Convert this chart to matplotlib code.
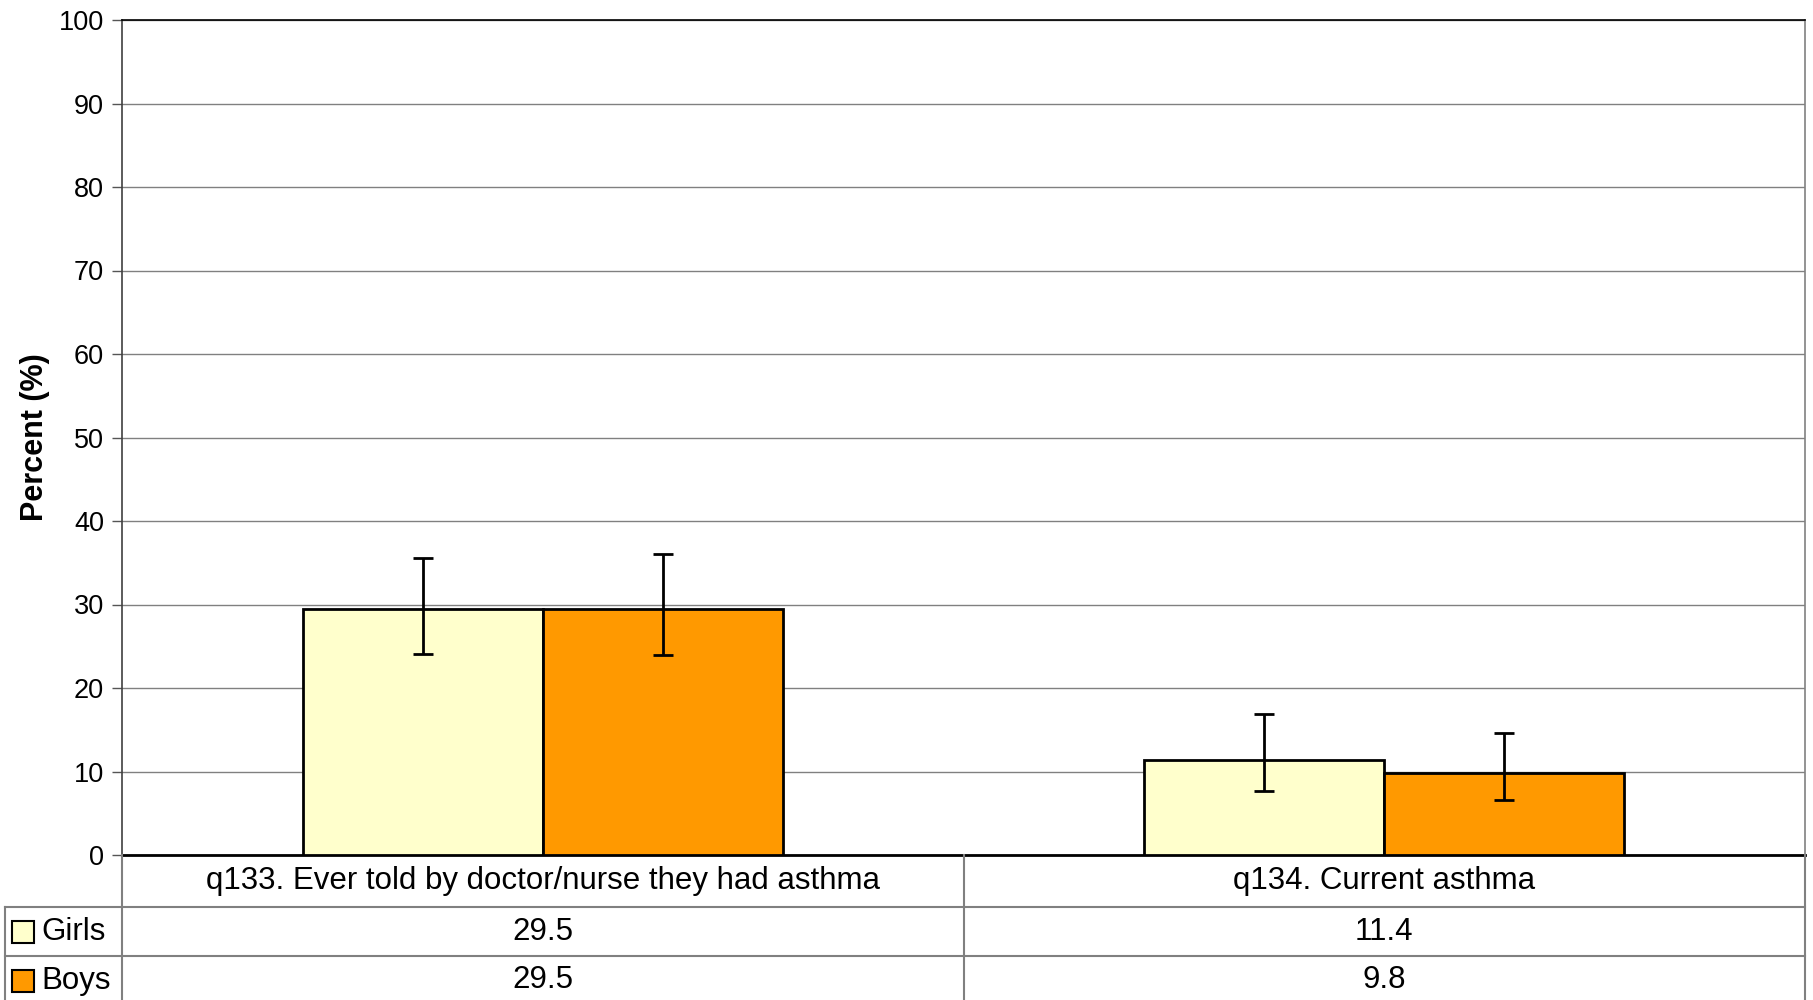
import numpy as np
import matplotlib
matplotlib.use('Agg')
import matplotlib.pyplot as plt
from matplotlib.lines import Line2D
from matplotlib.patches import Rectangle

plt.rcParams['font.family'] = ['Liberation Sans', 'DejaVu Sans']

# dane
categories = ['q133. Ever told by doctor/nurse they had asthma', 'q134. Current asthma']
series = ['Girls', 'Boys']
girls = [29.5, 11.4]
boys = [29.5, 9.8]
girls_lo = [24.1, 7.7]
girls_hi = [35.6, 16.9]
boys_lo = [23.9, 6.6]
boys_hi = [36.0, 14.6]
colors = ['#FFFFCC', '#FF9900']

W, H = 1813, 1000
fig = plt.figure(figsize=(W / 100, H / 100), dpi=100)

# obszar wykresu w pikselach
left, right, top, bottom = 122, 1805, 20, 855
ax = fig.add_axes([left / W, 1 - bottom / H, (right - left) / W, (bottom - top) / H])

x = np.arange(len(categories)) + 0.5
bw = 0.285
vals = [girls, boys]
los = [girls_lo, boys_lo]
his = [girls_hi, boys_hi]
for i in range(len(series)):
    xs = x + (i - 0.5) * bw
    v = np.array(vals[i])
    yerr = [v - np.array(los[i]), np.array(his[i]) - v]
    ax.bar(xs, v, bw, color=colors[i], edgecolor='black', linewidth=2, zorder=3)
    ax.errorbar(xs, v, yerr=yerr, fmt='none', ecolor='black', elinewidth=2,
                capsize=7, capthick=2, zorder=4)

ax.set_xlim(0, len(categories))
ax.set_ylim(0, 100)
ax.set_yticks(np.arange(0, 101, 10))
ax.tick_params(axis='y', labelsize=19.5, length=7, width=1, color='#555555', pad=6)
ax.set_xticks([])
ax.grid(axis='y', color='#808080', linewidth=1, zorder=0)
ax.set_axisbelow(True)
for s in ['top', 'right', 'left']:
    ax.spines[s].set_color('#808080')
    ax.spines[s].set_linewidth(1.2)
ax.spines['left'].set_color('#404040')
ax.spines['top'].set_color('black')
ax.spines['bottom'].set_linewidth(2)
ax.set_ylabel('Percent (%)', fontsize=22, fontweight='bold')
ax.yaxis.set_label_coords((50 - left) / (right - left), 0.5)

# tabela pod wykresem
def fx(px):
    return px / W

def fy(py):
    return 1 - py / H

tcol = '#808080'
row_h = [855, 907, 956, 1005]
col_mid = ax.transData.transform((1, 0))[0]
col_x = [left, col_mid, right]

lines = [
    ((5, 5), (row_h[1], row_h[3])),
    ((5, right), (row_h[1], row_h[1])),
    ((5, right), (row_h[2], row_h[2])),
]
for cx in col_x:
    lines.append(((cx, cx), (row_h[0], row_h[3])))
for (xa, xb), (ya, yb) in lines:
    fig.add_artist(Line2D([fx(xa), fx(xb)], [fy(ya), fy(yb)], color=tcol,
                          linewidth=1.5, transform=fig.transFigure))

fs = 22.5
for j, cat in enumerate(categories):
    cx = (col_x[j] + col_x[j + 1]) / 2
    fig.text(fx(cx), fy((row_h[0] + row_h[1]) / 2), cat, ha='center', va='center', fontsize=fs)
    for i in range(len(series)):
        fig.text(fx(cx), fy((row_h[i + 1] + row_h[i + 2]) / 2), f'{vals[i][j]:.1f}',
                 ha='center', va='center', fontsize=fs)

for i, name in enumerate(series):
    yc = (row_h[i + 1] + row_h[i + 2]) / 2
    fig.add_artist(Rectangle((fx(12), fy(yc + 11)), 22 / W, 22 / H, facecolor=colors[i],
                             edgecolor='black', linewidth=1.5, transform=fig.transFigure))
    fig.text(fx(41), fy(yc), name, ha='left', va='center', fontsize=fs)

fig.savefig('out.png', dpi=100)
